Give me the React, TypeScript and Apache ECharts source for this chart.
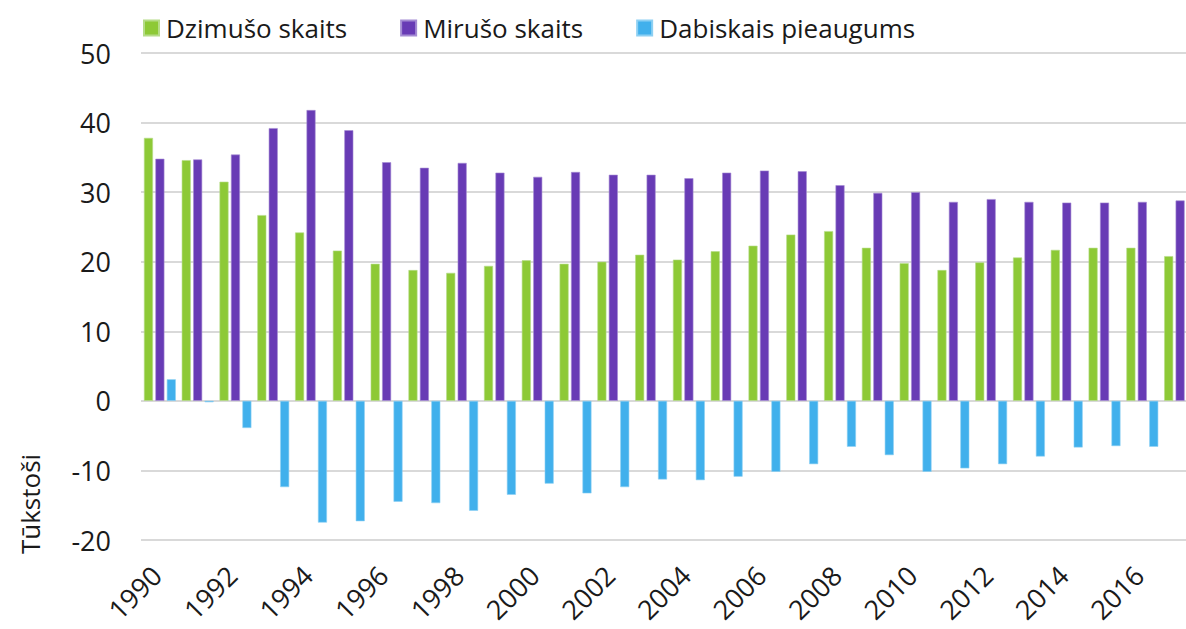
import React, { useEffect, useRef } from "react";
import * as echarts from "echarts";

const years = [
  "1990", "1991", "1992", "1993", "1994", "1995", "1996", "1997", "1998", "1999",
  "2000", "2001", "2002", "2003", "2004", "2005", "2006", "2007", "2008", "2009",
  "2010", "2011", "2012", "2013", "2014", "2015", "2016", "2017",
];
const births = [
  37.8, 34.6, 31.5, 26.7, 24.2, 21.6, 19.7, 18.8, 18.4, 19.4,
  20.2, 19.7, 20.0, 21.0, 20.3, 21.5, 22.3, 23.9, 24.4, 22.0,
  19.8, 18.8, 19.9, 20.6, 21.7, 22.0, 22.0, 20.8,
];
const deaths = [
  34.8, 34.7, 35.4, 39.2, 41.8, 38.9, 34.3, 33.5, 34.2, 32.8,
  32.2, 32.9, 32.5, 32.5, 32.0, 32.8, 33.1, 33.0, 31.0, 29.9,
  30.0, 28.6, 29.0, 28.6, 28.5, 28.5, 28.6, 28.8,
];
const naturalIncrease = [
  3.1, -0.2, -3.9, -12.4, -17.5, -17.3, -14.5, -14.7, -15.8, -13.5,
  -11.9, -13.3, -12.4, -11.3, -11.4, -10.9, -10.2, -9.1, -6.6, -7.8,
  -10.2, -9.7, -9.1, -8.0, -6.7, -6.5, -6.6, -8.0,
];
const seriesNames = ["Dzimušo skaits", "Mirušo skaits", "Dabiskais pieaugums"];
const yAxisTitle = "Tūkstoši";

const FONT = "'Open Sans', 'Noto Sans', sans-serif";

export default function App() {
  const ref = useRef<HTMLDivElement>(null);
  useEffect(() => {
    if (!ref.current) return;
    const chart = echarts.init(ref.current, undefined, { renderer: "svg" });
    const colors = ["#8DC936", "#683BB5", "#41B0EC"];
    const borders = ["#B5DC88", "#A48BD3", "#8DD0F3"];
    const datasets = [births, deaths, naturalIncrease];
    chart.setOption({
      animation: false,
      textStyle: { fontFamily: FONT },
      legend: {
        left: 138,
        top: 10,
        itemWidth: 15,
        itemHeight: 15,
        itemGap: 53,
        icon: "rect",
        textStyle: {
          fontSize: 26,
          color: "#1a1a1a",
          fontFamily: FONT,
          padding: [0, 0, 0, 2],
        },
        data: seriesNames,
      },
      grid: { left: 141, right: 0, top: 53, bottom: 89, containLabel: false },
      xAxis: {
        type: "category",
        data: years,
        axisLine: { show: false },
        axisTick: { show: false },
        axisLabel: {
          interval: 1,
          rotate: 45,
          fontSize: 27,
          color: "#1a1a1a",
          margin: 27,
          verticalAlign: "middle",
          padding: [0, 5, 0, 0],
          fontFamily: FONT,
        },
      },
      yAxis: {
        type: "value",
        min: -20,
        max: 50,
        interval: 10,
        axisLine: { show: false },
        axisTick: { show: false },
        axisLabel: { fontSize: 27, color: "#1a1a1a", margin: 30, fontFamily: FONT },
        splitLine: { lineStyle: { color: "#D9D9D9", width: 2 } },
      },
      graphic: [
        {
          type: "text",
          x: 30,
          y: 504,
          rotation: Math.PI / 2,
          style: {
            text: yAxisTitle,
            fontSize: 26,
            fill: "#1a1a1a",
            fontFamily: FONT,
            align: "center",
            verticalAlign: "middle",
          },
        },
      ],
      series: seriesNames.map((name, i) => ({
        name,
        type: "bar",
        data: datasets[i],
        barWidth: 9,
        barGap: "27%",
        itemStyle: { color: colors[i], borderColor: borders[i], borderWidth: 0.6 },
      })),
    });
    return () => chart.dispose();
  }, []);
  return (
    <div
      style={{
        position: "absolute",
        left: 0,
        top: 0,
        width: 1186,
        height: 629,
        overflow: "hidden",
      }}
    >
      <div ref={ref} style={{ width: 1199, height: 629 }} />
    </div>
  );
}
